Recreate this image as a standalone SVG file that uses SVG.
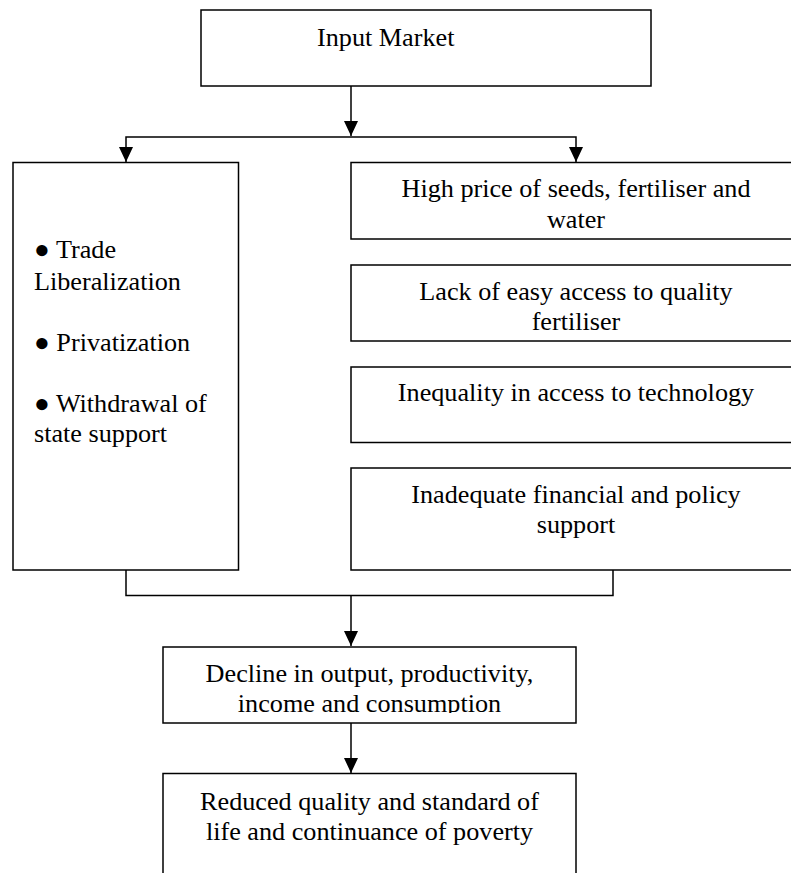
<svg xmlns="http://www.w3.org/2000/svg" width="791" height="873" viewBox="0 0 791 873">
<style>
.box{fill:#fff;stroke:#000;stroke-width:1.5}
.ln{fill:none;stroke:#000;stroke-width:1.5}
text{font-family:"Liberation Serif","Times New Roman",serif;font-size:26.2px;fill:#000}
.c{text-anchor:middle}
</style>
<defs>
<marker id="ah" viewBox="0 0 15 14" refX="15" refY="7" markerWidth="15" markerHeight="14" markerUnits="userSpaceOnUse" orient="auto-start-reverse">
<path d="M0,0 L15,7 L0,14 Z" fill="#000"/>
</marker>
<clipPath id="clipDecline"><rect x="163" y="647" width="413" height="66"/></clipPath>
</defs>
<g id="connectors">
<path class="ln" d="M351,86 V136" marker-end="url(#ah)"/>
<path class="ln" d="M126,162 V137 H576 V162" marker-start="url(#ah)" marker-end="url(#ah)"/>
<path class="ln" d="M126,570 V595.5 H613 V570"/>
<path class="ln" d="M351,595.5 V646" marker-end="url(#ah)"/>
<path class="ln" d="M351,723 V773" marker-end="url(#ah)"/>
</g>
<g id="input-market">
<rect class="box" x="201" y="10" width="450" height="76"/>
<text x="317" y="46">Input Market</text>
</g>
<g id="policies">
<rect class="box" x="13" y="162.5" width="225.5" height="407.5"/>
<text x="34" y="258">● Trade</text>
<text x="34" y="290">Liberalization</text>
<text x="34" y="351">● Privatization</text>
<text x="34" y="412">● Withdrawal of</text>
<text x="34" y="442">state support</text>
</g>
<g id="high-price">
<rect class="box" x="351" y="162.5" width="452" height="76.5"/>
<text class="c" x="576" y="197">High price of seeds, fertiliser and</text>
<text class="c" x="576" y="228">water</text>
</g>
<g id="lack-access">
<rect class="box" x="351" y="265" width="452" height="76"/>
<text class="c" x="576" y="300">Lack of easy access to quality</text>
<text class="c" x="576" y="330">fertiliser</text>
</g>
<g id="inequality">
<rect class="box" x="351" y="367" width="452" height="75.5"/>
<text class="c" x="576" y="401">Inequality in access to technology</text>
</g>
<g id="inadequate">
<rect class="box" x="351" y="468" width="452" height="102"/>
<text class="c" x="576" y="503">Inadequate financial and policy</text>
<text class="c" x="576" y="533">support</text>
</g>
<g id="decline">
<rect class="box" x="163" y="647" width="413" height="76"/>
<g clip-path="url(#clipDecline)">
<text class="c" x="369.5" y="682">Decline in output, productivity,</text>
<text class="c" x="369.5" y="712">income and consumption</text>
</g>
</g>
<g id="reduced">
<rect class="box" x="163" y="773.5" width="413" height="110"/>
<text class="c" x="369.5" y="810">Reduced quality and standard of</text>
<text class="c" x="369.5" y="840">life and continuance of poverty</text>
</g>
</svg>
